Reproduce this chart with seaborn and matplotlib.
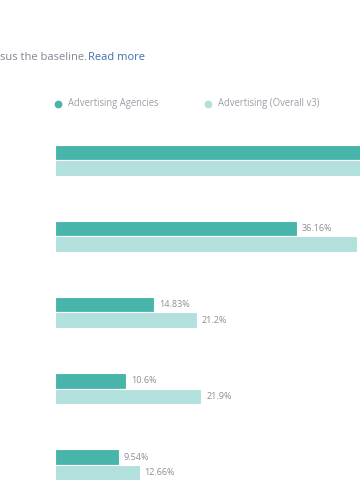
import matplotlib
matplotlib.use("Agg")
import matplotlib.pyplot as plt
from matplotlib.lines import Line2D
import seaborn as sns
import pandas as pd

# ---- data ----
categories = ["Category A", "Category B", "Category C", "Category D", "Category E"]
series_names = ["Advertising Agencies", "Advertising (Overall v3)"]
agencies = [58.0, 36.16, 14.83, 10.6, 9.54]
overall = [52.0, 45.2, 21.2, 21.9, 12.66]
subtitle_text = "sus the baseline."
link_text = "Read more"

colors = {"Advertising Agencies": "#47b5aa", "Advertising (Overall v3)": "#b2e0dc"}

df = pd.DataFrame({
    "category": categories * 2,
    "series": [series_names[0]] * len(categories) + [series_names[1]] * len(categories),
    "value": agencies + overall,
})

sns.set_theme(style="white")
plt.rcParams["font.family"] = ["Open Sans", "DejaVu Sans"]

W, H = 360, 500
fig = plt.figure(figsize=(W / 100, H / 100), dpi=100)

# axes geometry in pixels
x0_px = 55.0
px_per_unit = 6.68
top_px = 122.31
ax = fig.add_axes([x0_px / W, 0.0, 1.0 - x0_px / W, (H - top_px) / H])

sns.barplot(data=df, y="category", x="value", hue="series", orient="h",
            palette=colors, saturation=1, width=0.4, dodge=True, ax=ax,
            edgecolor="white", linewidth=0.8, legend=False, errorbar=None)

xmax = (W - x0_px) / px_per_unit
ax.set_xlim(0, xmax)
ax.set_ylim(4.4647, -0.5)
ax.set_xlabel("")
ax.set_ylabel("")
ax.set_xticks([])
ax.set_yticks([])
for s in ax.spines.values():
    s.set_visible(False)

for cont in ax.containers:
    vals = [b.get_width() for b in cont]
    labels = [f"{v:g}%" if v < xmax - 1.5 else "" for v in vals]
    ax.bar_label(cont, labels=labels, padding=3.6,
                 fontsize=6.5, color="#8a8e96")

# subtitle
sub = fig.text(0.5 / W, 1 - 57.5 / H, subtitle_text, fontsize=8.0, color="#7f8690",
               ha="left", va="center")
fig.canvas.draw()
bb = sub.get_window_extent()
fig.text(bb.x1 / W, 1 - 57.5 / H, link_text, fontsize=8.0, color="#3f6fae",
         ha="left", va="center")

# legend (manual)
leg_y = 1 - 103.5 / H
for name, mx, tx in [(series_names[0], 58.3, 67.5), (series_names[1], 208.3, 218.0)]:
    fig.add_artist(Line2D([mx / W], [leg_y], marker="o", markersize=4.6,
                          color=colors[name], linestyle="none",
                          transform=fig.transFigure))
    fig.text(tx / W, leg_y, name, fontsize=6.85, color="#9aa0a8",
             ha="left", va="center")

fig.savefig("out.png", dpi=100)
